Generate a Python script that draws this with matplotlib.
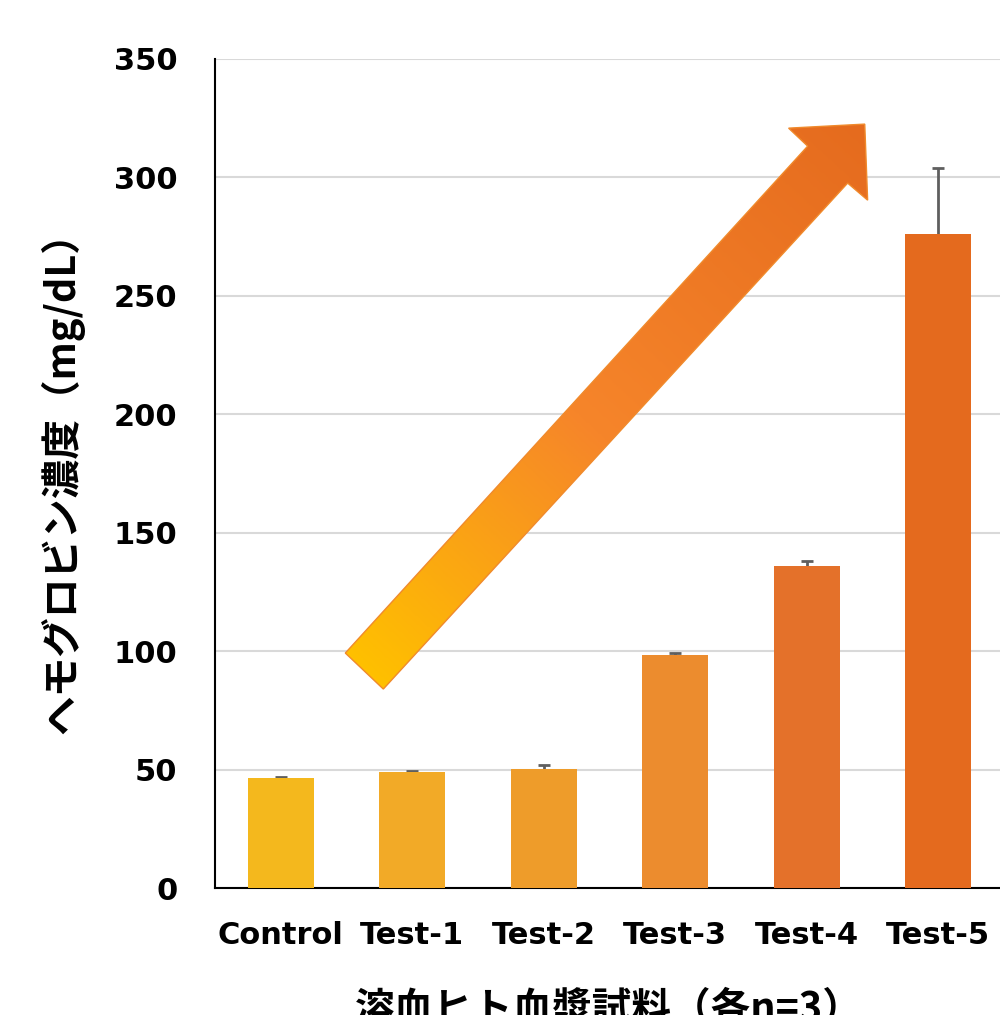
import numpy as np
import matplotlib.pyplot as plt
from matplotlib.colors import LinearSegmentedColormap
from matplotlib.patches import Polygon

# data
categories = ["Control", "Test-1", "Test-2", "Test-3", "Test-4", "Test-5"]
means = [46.4, 49.0, 50.2, 98.4, 135.9, 276.1]
errors = [0.4, 0.4, 1.7, 0.8, 2.1, 27.8]
bar_colors = ["#F4B81D", "#F2AA27", "#EE9C2A", "#EC8C2E", "#E4712A", "#E46A1E"]
y_ticks = [0, 50, 100, 150, 200, 250, 300, 350]

x_label = "溶血ヒト血漿試料（各n=3）"
y_label = "ヘモグロビン濃度（mg/dL）"

# decorative trend arrow outline (category units, mg/dL)
arrow_x = [0.491, 4.007, 3.862, 4.441, 4.463, 4.311, 0.780]
arrow_y = [99.2, 313.2, 320.8, 322.5, 290.4, 297.6, 84.0]

plt.rcParams["font.family"] = ["DejaVu Sans"]
plt.rcParams["font.weight"] = "bold"
jp_font = ["Noto Sans CJK JP", "DejaVu Sans"]

fig = plt.figure(figsize=(10, 10.15), dpi=100)
ax = fig.add_axes([0.215, 0.1251, 0.789, 0.8168])

x = np.arange(len(categories))
ax.bar(x, means, width=0.5, color=bar_colors, zorder=3)
# plus-only error bars
eb = ax.errorbar(x, means, yerr=[np.zeros(len(errors)), errors], fmt="none",
                 ecolor="#5F5F5F", elinewidth=2, capsize=4.6, capthick=2,
                 zorder=2.5)
eb[1][0].set_visible(False)  # drop the lower caps

ax.set_xlim(-0.5, 5.5)
ax.set_ylim(0, 350)
ax.set_yticks(y_ticks)
ax.set_xticks(x)
ax.set_xticklabels(categories)
ax.tick_params(axis="both", length=0, labelsize=22)
ax.tick_params(axis="x", pad=24)
ax.tick_params(axis="y", pad=27)

ax.grid(axis="y", color="#D9D9D9", linewidth=1.5, zorder=0)
ax.set_axisbelow(True)
for side in ["top", "right"]:
    ax.spines[side].set_visible(False)
for side in ["left", "bottom"]:
    ax.spines[side].set_linewidth(1.5)
    ax.spines[side].set_color("black")

ax.set_xlabel(x_label, family=jp_font, fontsize=28.5, fontweight="bold")
ax.xaxis.set_label_coords(0.499, -0.122)
ax.set_ylabel(y_label, family=jp_font, fontsize=28.5, fontweight="bold")
ax.yaxis.set_label_coords(-0.166, 0.501)

# gradient arrow: image clipped by the arrow polygon
pts = np.column_stack([arrow_x, arrow_y])
arrow = Polygon(pts, closed=True, facecolor="none", edgecolor="#F08A2C",
                linewidth=1.0, zorder=6)
ax.add_patch(arrow)

cmap = LinearSegmentedColormap.from_list(
    "arrow", [(0.0, "#FFC000"), (0.45, "#F6852A"), (1.0, "#E56B1E")])
x0, x1 = min(arrow_x), max(arrow_x)
y0, y1 = min(arrow_y), max(arrow_y)
gx, gy = np.meshgrid(np.linspace(x0, x1, 300), np.linspace(y0, y1, 300))
disp = ax.transData.transform(np.column_stack([gx.ravel(), gy.ravel()]))
tail = ax.transData.transform([(arrow_x[0] + arrow_x[6]) / 2,
                               (arrow_y[0] + arrow_y[6]) / 2])
tip = ax.transData.transform([arrow_x[3], arrow_y[3]])
d = tip - tail
t = ((disp - tail) @ d) / (d @ d)
t = np.clip(t, 0, 1).reshape(gx.shape)
img = ax.imshow(t, cmap=cmap, origin="lower", extent=[x0, x1, y0, y1],
                aspect="auto", interpolation="bilinear", zorder=5)
img.set_clip_path(arrow)

ax.set_xlim(-0.5, 5.5)
ax.set_ylim(0, 350)

fig.savefig("out.png", dpi=100)
